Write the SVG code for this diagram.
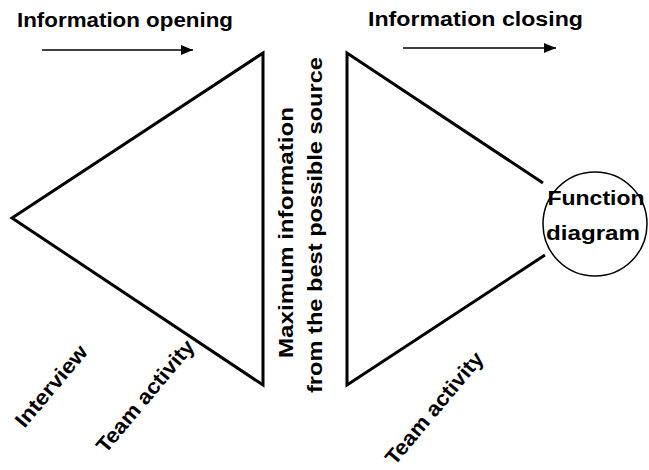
<svg xmlns="http://www.w3.org/2000/svg" width="649" height="470" viewBox="0 0 649 470">
<style>
  .t { font-family: "Liberation Sans", Arial, sans-serif; font-weight: bold; fill: #000; }
  .edge { fill: none; stroke: #000; stroke-width: 3; stroke-linejoin: miter; }
  .arr { stroke: #000; stroke-width: 1.6; fill: none; }
</style>
<defs>
  <marker id="ah" viewBox="0 0 12 10" refX="12" refY="5" markerWidth="12" markerHeight="10" markerUnits="userSpaceOnUse" orient="auto">
    <path d="M0,0 L12,5 L0,10 Z" fill="#000"/>
  </marker>
</defs>
<rect width="649" height="470" fill="#fff"/>
<g id="title-opening">
  <text class="t" x="17" y="27" font-size="20" textLength="216" lengthAdjust="spacingAndGlyphs">Information opening</text>
</g>
<g id="title-closing">
  <text class="t" x="368" y="26" font-size="20" textLength="215" lengthAdjust="spacingAndGlyphs">Information closing</text>
</g>
<g id="opening-triangle">
  <polygon class="edge" points="12,218 263,53 263,385"/>
</g>
<g id="closing-triangle">
  <polyline class="edge" points="543,183 347,53 347,385 545,255"/>
</g>
<g id="function-diagram">
  <circle cx="595" cy="224" r="52" fill="#fff" stroke="#000" stroke-width="1.5"/>
  <text class="t" x="596" y="205" font-size="20" text-anchor="middle" textLength="97" lengthAdjust="spacingAndGlyphs">Function</text>
  <text class="t" x="593" y="240" font-size="20" text-anchor="middle" textLength="94" lengthAdjust="spacingAndGlyphs">diagram</text>
</g>
<g id="max-info">
  <text class="t" font-size="21" transform="translate(293,358) rotate(-90)" textLength="251" lengthAdjust="spacingAndGlyphs">Maximum information</text>
  <text class="t" font-size="21" transform="translate(322,393) rotate(-90)" textLength="336" lengthAdjust="spacingAndGlyphs">from the best possible source</text>
</g>
<g id="label-interview">
  <text class="t" font-size="21" text-anchor="middle" dy="0.35em" transform="translate(51,386) rotate(-50)" textLength="100" lengthAdjust="spacingAndGlyphs">Interview</text>
</g>
<g id="label-team-left">
  <text class="t" font-size="21" text-anchor="middle" dy="0.35em" transform="translate(145,396) rotate(-50)" textLength="140" lengthAdjust="spacingAndGlyphs">Team activity</text>
</g>
<g id="label-team-right">
  <text class="t" font-size="21" text-anchor="middle" dy="0.35em" transform="translate(434,408) rotate(-50)" textLength="140" lengthAdjust="spacingAndGlyphs">Team activity</text>
</g>
<g id="connectors">
  <line class="arr" x1="42" y1="50" x2="193" y2="50" marker-end="url(#ah)"/>
  <line class="arr" x1="403" y1="48" x2="556" y2="48" marker-end="url(#ah)"/>
</g>
</svg>
